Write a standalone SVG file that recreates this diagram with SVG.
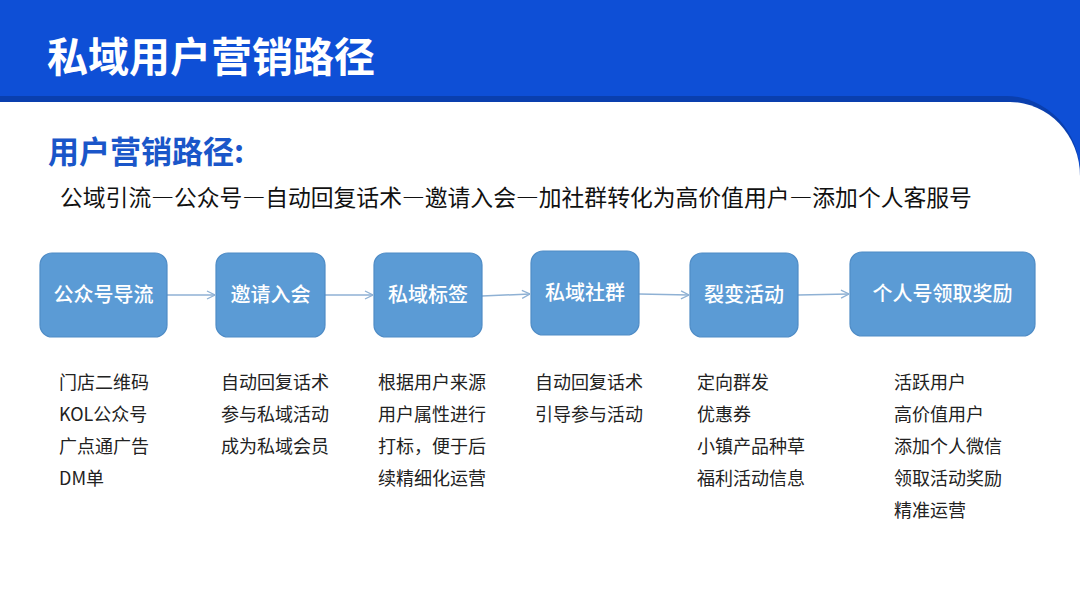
<svg xmlns="http://www.w3.org/2000/svg" width="1080" height="608" viewBox="0 0 1080 608">
  <defs>
    <style>
      .cjk { font-family: "Noto Sans CJK SC", "Microsoft YaHei", sans-serif; }
      .title { fill: #ffffff; font-size: 41px; font-weight: bold; }
      .sub { fill: #1a56c9; font-size: 31px; font-weight: bold; }
      .path { fill: #111111; font-size: 22.8px; }
      .dash { font-feature-settings: "fwid" 1; }
      .box { fill: #5b9bd5; stroke: #4f8cc6; stroke-width: 1.2; }
      .boxtxt { fill: #ffffff; font-size: 20px; font-weight: 500; text-anchor: middle; }
      .item { fill: #222222; font-size: 18px; }
      .conn { stroke: #8fb1d4; stroke-width: 1.5; fill: none; marker-end: url(#arr); }
    </style>
    <marker id="arr" viewBox="0 0 10 10" refX="10" refY="5" markerWidth="10" markerHeight="10" markerUnits="userSpaceOnUse" orient="auto">
      <path d="M2,1 L10,5 L2,9" fill="none" stroke="#8fb1d4" stroke-width="1.3"/>
    </marker>
  </defs>

  <!-- background / header -->
  <rect x="0" y="0" width="1080" height="608" fill="#ffffff"/>
  <rect x="0" y="0" width="1080" height="200" fill="#0e4fd6"/>
  <path d="M0,96 H1006 A74,78 0 0 1 1080,174 V608 H0 Z" fill="#0a3fae"/>
  <path d="M0,102 H1010 A70,74 0 0 1 1080,176 V608 H0 Z" fill="#ffffff"/>
  <text class="cjk title" x="47" y="72">私域用户营销路径</text>

  <text class="cjk sub" x="48" y="163">用户营销路径:</text>
  <text class="cjk path" x="60" y="206">公域引流<tspan class="dash">—</tspan>公众号<tspan class="dash">—</tspan>自动回复话术<tspan class="dash">—</tspan>邀请入会<tspan class="dash">—</tspan>加社群转化为高价值用户<tspan class="dash">—</tspan>添加个人客服号</text>

  <!-- connectors -->
  <g id="connectors">
    <line class="conn" x1="167" y1="295" x2="215" y2="295"/>
    <line class="conn" x1="325" y1="295" x2="373" y2="295"/>
    <line class="conn" x1="482" y1="296" x2="530" y2="294"/>
    <line class="conn" x1="639" y1="294" x2="689" y2="295"/>
    <line class="conn" x1="798" y1="295" x2="849" y2="294"/>
  </g>

  <!-- nodes -->
  <g id="n1">
    <rect class="box" x="40" y="253" width="127" height="84" rx="12"/>
    <text class="cjk boxtxt" x="103.5" y="302">公众号导流</text>
  </g>
  <g id="n2">
    <rect class="box" x="216" y="253" width="109" height="84" rx="12"/>
    <text class="cjk boxtxt" x="270.5" y="302">邀请入会</text>
  </g>
  <g id="n3">
    <rect class="box" x="374" y="253" width="108" height="84" rx="12"/>
    <text class="cjk boxtxt" x="428" y="302">私域标签</text>
  </g>
  <g id="n4">
    <rect class="box" x="531" y="251" width="108" height="84" rx="12"/>
    <text class="cjk boxtxt" x="585" y="300">私域社群</text>
  </g>
  <g id="n5">
    <rect class="box" x="690" y="253" width="108" height="84" rx="12"/>
    <text class="cjk boxtxt" x="744" y="302">裂变活动</text>
  </g>
  <g id="n6">
    <rect class="box" x="850" y="252" width="185" height="84" rx="12"/>
    <text class="cjk boxtxt" x="942.5" y="301">个人号领取奖励</text>
  </g>

  <!-- lists -->
  <g id="list1" class="cjk item">
    <text x="59" y="389">门店二维码</text>
    <text x="59" y="421">KOL公众号</text>
    <text x="59" y="453">广点通广告</text>
    <text x="59" y="485">DM单</text>
  </g>
  <g id="list2" class="cjk item">
    <text x="221" y="389">自动回复话术</text>
    <text x="221" y="421">参与私域活动</text>
    <text x="221" y="453">成为私域会员</text>
  </g>
  <g id="list3" class="cjk item">
    <text x="378" y="389">根据用户来源</text>
    <text x="378" y="421">用户属性进行</text>
    <text x="378" y="453">打标，便于后</text>
    <text x="378" y="485">续精细化运营</text>
  </g>
  <g id="list4" class="cjk item">
    <text x="535" y="389">自动回复话术</text>
    <text x="535" y="421">引导参与活动</text>
  </g>
  <g id="list5" class="cjk item">
    <text x="697" y="389">定向群发</text>
    <text x="697" y="421">优惠券</text>
    <text x="697" y="453">小镇产品种草</text>
    <text x="697" y="485">福利活动信息</text>
  </g>
  <g id="list6" class="cjk item">
    <text x="894" y="389">活跃用户</text>
    <text x="894" y="421">高价值用户</text>
    <text x="894" y="453">添加个人微信</text>
    <text x="894" y="485">领取活动奖励</text>
    <text x="894" y="517">精准运营</text>
  </g>
</svg>
